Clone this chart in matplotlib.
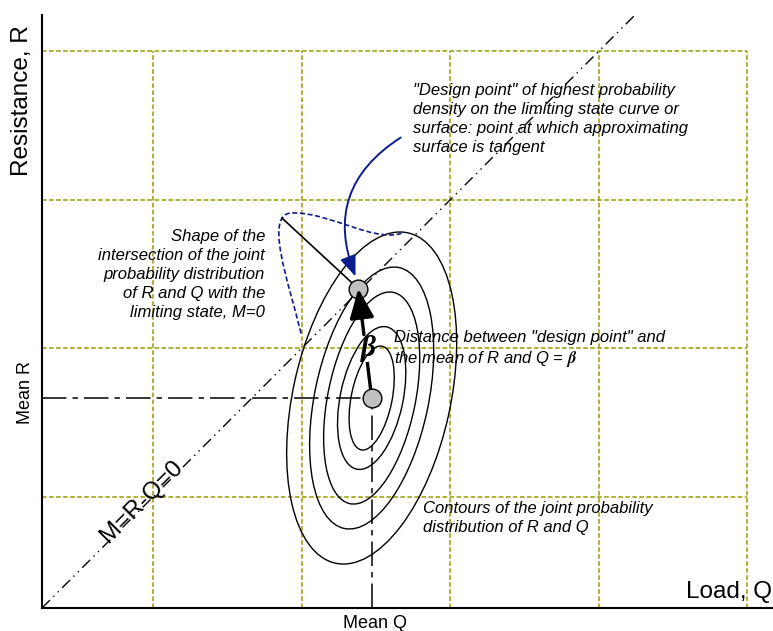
"""Reliability sketch: joint distribution of load Q and resistance R with the limit state M=R-Q=0."""
import numpy as np
import matplotlib
matplotlib.use("Agg")
import matplotlib.pyplot as plt
from matplotlib.patches import Ellipse, PathPatch, FancyArrowPatch
from matplotlib.path import Path

plt.rcParams["font.family"] = ["Liberation Sans", "DejaVu Sans"]
plt.rcParams["mathtext.fontset"] = "stix"

# ── data (plot units) ──
grid_q = [0.75, 1.75, 2.75, 3.75, 4.75]
grid_r = [0.75, 1.75, 2.75, 3.75]
mean_q, mean_r = 2.22, 1.414
design_q, design_r = 2.13, 2.15
limit_q = [0.0, 4.0]          # M = R - Q = 0
limit_r = [0.0, 4.0]

# contours of the joint pdf: vertical half extent, half chord through the mean, lean of the major axis
contour_half_r = [1.118, 0.882, 0.714, 0.481, 0.350]
contour_half_q = [0.540, 0.390, 0.300, 0.215, 0.140]
contour_lean = 0.17

# section of the pdf along M=0 (cubic bezier control points)
shape_q = [1.744, 1.66, 1.48, 1.70, 1.95, 2.25, 2.44]
shape_r = [1.850, 2.20, 2.68, 2.66, 2.66, 2.45, 2.53]
leader_start = (1.616, 2.626)
design_note_start = (2.431, 3.178)

OLIVE = "#9a9a00"
NAVY = "#0c1c8c"
GREY = "#c0c0c0"

fig = plt.figure(figsize=(7.73, 6.31), dpi=100)
ax = fig.add_axes([42 / 773, 23 / 631, 731 / 773, 608 / 631])
ax.set_xlim(0, 731 / 148.5)
ax.set_ylim(0, 608 / 148.5)
ax.set_aspect("equal")
ax.set_xticks([])
ax.set_yticks([])
for side in ("top", "right"):
    ax.spines[side].set_visible(False)
ax.spines["left"].set_bounds(0, 593 / 148.5)
ax.spines["left"].set_linewidth(1.5)
ax.spines["bottom"].set_linewidth(1.5)

# ── grid ──
ax.vlines(grid_q, 0, grid_r[-1], colors=OLIVE, lw=1.1, linestyles=[(0, (3, 1.6))])
ax.hlines(grid_r, 0, grid_q[-1], colors=OLIVE, lw=1.1, linestyles=[(0, (3, 1.6))])

# ── limit state line and mean lines ──
ax.plot(limit_q, limit_r, color="k", lw=1.0, ls=(0, (8, 3.5, 1, 3.5, 1, 3.5)), clip_on=False)
ax.plot([0, mean_q], [mean_r, mean_r], color="k", lw=1.1, ls=(0, (16, 4, 3.5, 4)))
ax.plot([mean_q, mean_q], [0, mean_r], color="k", lw=1.1, ls=(0, (16, 4, 3.5, 4)))

# ── contours ──
for h, c in zip(contour_half_r, contour_half_q):
    cov = np.array([[c**2 + contour_lean**2 * h**2, contour_lean * h**2],
                    [contour_lean * h**2, h**2]])
    vals, vecs = np.linalg.eigh(cov)
    ang = np.degrees(np.arctan2(vecs[1, 1], vecs[0, 1]))
    ax.add_patch(Ellipse((mean_q, mean_r), 2 * np.sqrt(vals[1]), 2 * np.sqrt(vals[0]),
                         angle=ang, fill=False, ec="k", lw=1.0, zorder=3))

# ── section along M=0 ──
verts = list(zip(shape_q, shape_r))
codes = [Path.MOVETO] + [Path.CURVE4] * 6
ax.add_patch(PathPatch(Path(verts, codes), fill=False, ec=NAVY, lw=1.2,
                       ls=(0, (3, 1.6)), zorder=3))
ax.plot([leader_start[0], design_q], [leader_start[1], design_r], color="k", lw=1.2, zorder=5)

ax.add_patch(FancyArrowPatch(design_note_start, (design_q - 0.012, design_r + 0.065),
                             connectionstyle="arc3,rad=0.42",
                             arrowstyle="-|>,head_length=0.9,head_width=0.35",
                             mutation_scale=14, color=NAVY, lw=1.4, zorder=4))

# ── beta arrow ──
dq, dr = design_q - mean_q, design_r - mean_r
ax.plot([mean_q, mean_q + 0.33 * dq], [mean_r, mean_r + 0.33 * dr], color="k", lw=2.4, zorder=5,
        solid_capstyle="butt")
ax.annotate("", xy=(design_q, design_r), xytext=(mean_q + 0.58 * dq, mean_r + 0.58 * dr),
            arrowprops=dict(arrowstyle="-|>,head_length=1.8,head_width=0.75", lw=2.4, color="k",
                            shrinkA=0, shrinkB=0), zorder=6)
ax.text(mean_q + 0.45 * dq + 0.02, mean_r + 0.45 * dr, "β", fontsize=21, fontweight="bold",
        style="italic", family="Liberation Serif", ha="center", va="center")

ax.plot([mean_q, design_q], [mean_r, design_r], "o", ms=13.5, mfc=GREY, mec="k", mew=1.0,
        ls="none", zorder=5)

# ── annotations ──
note = dict(fontsize=12, style="italic", va="top", linespacing=1.32)
ax.text(2.498, 3.535, '"Design point" of highest probability\n'
        'density on the limiting state curve or\n'
        'surface: point at which approximating\n'
        'surface is tangent', ha="left", **note)
ax.text(1.502, 2.55, "Shape of the\nintersection of the joint\nprobability distribution\n"
        "of R and Q with the\nlimiting state, M=0", ha="right", **note)
ax.text(2.370, 1.875, 'Distance between "design point" and\n'
        r'the mean of R and Q = $\boldsymbol{\beta}$', ha="left", **note)
ax.text(2.566, 0.72, "Contours of the joint probability\ndistribution of R and Q", ha="left", **note)
ax.text(0.673, 0.714, "M=R-Q=0", fontsize=17.5, rotation=45, rotation_mode="anchor",
        ha="center", va="center")

# ── axis labels ──
fig.text(22 / 773, 1 - 101 / 631, "Resistance, R", fontsize=17.5, rotation=90, ha="center", va="center")
fig.text(772 / 773, 1 - 592 / 631, "Load, Q", fontsize=17.5, ha="right", va="center")
fig.text(25 / 773, 1 - 392 / 631, "Mean R", fontsize=13, rotation=90, ha="center", va="center")
fig.text(375 / 773, 1 - 623 / 631, "Mean Q", fontsize=13, ha="center", va="center")

fig.savefig("out.png", dpi=100)
plt.close(fig)
